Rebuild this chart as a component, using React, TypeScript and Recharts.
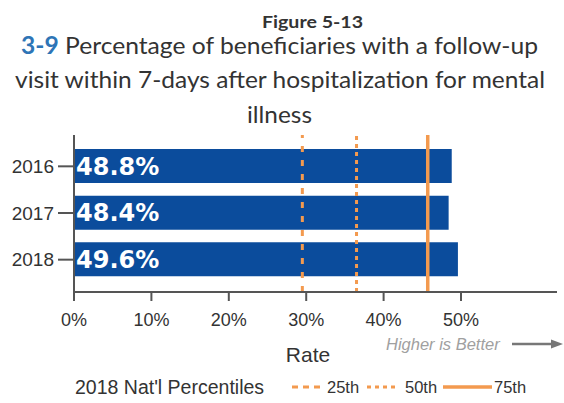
import React from 'react';
import { BarChart, Bar, XAxis, YAxis, ReferenceLine, LabelList } from 'recharts';

const years = ['2016', '2017', '2018'];
const rates = [48.8, 48.4, 49.6];
const xTicks = [0, 10, 20, 30, 40, 50];
const pct25 = 29.5;
const pct50 = 36.5;
const pct75 = 45.7;

const data = years.map((y, i) => ({ year: y, rate: rates[i] }));

const ORANGE = '#F39A4F';
const BLUE = '#0B4C9C';
const TXT = '#333333';

export default function App() {
  return (
    <div style={{ position: 'absolute', left: 0, top: 0, width: 564, height: 403, background: '#fff' }}>
      <svg width={564} height={135} style={{ position: 'absolute', left: 0, top: 0 }}>
        <text x={262} y={28} fontFamily="Lato" fontWeight="bold" fontSize={17} fill={TXT}
          textLength={101} lengthAdjust="spacingAndGlyphs">Figure 5-13</text>
        <text x={21} y={54} fontFamily="Lato" fontSize={24} fill={TXT}
          textLength={517} lengthAdjust="spacingAndGlyphs">
          <tspan fill="#2E75B6" fontWeight="bold">3-9</tspan>
          <tspan> Percentage of beneficiaries with a follow-up</tspan>
        </text>
        <text x={15} y={88} fontFamily="Lato" fontSize={24} fill={TXT}
          textLength={530} lengthAdjust="spacingAndGlyphs">visit within 7-days after hospitalization for mental</text>
        <text x={247} y={123} fontFamily="Lato" fontSize={24} fill={TXT}
          textLength={65} lengthAdjust="spacingAndGlyphs">illness</text>
      </svg>

      <div style={{ position: 'absolute', left: 0, top: 0 }}>
        <BarChart
          width={564}
          height={403}
          layout="vertical"
          data={data}
          margin={{ top: 135, right: 7, bottom: 71, left: 0 }}
        >
          <XAxis
            type="number"
            domain={[0, 62.4]}
            ticks={xTicks}
            allowDataOverflow
            tickFormatter={(v: number) => `${v}%`}
            tickSize={9}
            tickMargin={12}
            height={40}
            axisLine={{ stroke: '#555', strokeWidth: 2 }}
            tickLine={{ stroke: '#555', strokeWidth: 2 }}
            tick={{ fill: TXT, fontSize: 18, fontFamily: 'Liberation Sans' }}
          />
          <YAxis
            type="category"
            dataKey="year"
            width={74}
            tickSize={16}
            tickMargin={4}
            padding={{ top: 8, bottom: 9 }}
            axisLine={{ stroke: '#555', strokeWidth: 2 }}
            tickLine={{ stroke: '#555', strokeWidth: 2 }}
            tick={{ fill: TXT, fontSize: 19, fontFamily: 'Liberation Sans' }}
          />
          <Bar dataKey="rate" fill={BLUE} barSize={34} isAnimationActive={false}>
            <LabelList
              dataKey="rate"
              position="insideLeft"
              offset={2}
              formatter={(v: number) => `${v.toFixed(1)}%`}
              fill="#ffffff"
              fontSize={24}
              fontWeight="bold"
              fontFamily="DejaVu Sans"
            />
          </Bar>
          <ReferenceLine x={pct25} stroke={ORANGE} strokeWidth={3} strokeDasharray="6 8" />
          <ReferenceLine x={pct50} stroke={ORANGE} strokeWidth={3} strokeDasharray="4 4" />
          <ReferenceLine x={pct75} stroke={ORANGE} strokeWidth={3.5} />
        </BarChart>
      </div>

      <svg width={564} height={403} style={{ position: 'absolute', left: 0, top: 0, pointerEvents: 'none' }}>
        <text x={308} y={362} textAnchor="middle" fontFamily="Liberation Sans" fontSize={21} fill={TXT}>Rate</text>
        <text x={386} y={350} fontFamily="Liberation Sans" fontStyle="italic" fontSize={16.5} fill="#A0A0A0">Higher is Better</text>
        <line x1={512} y1={344} x2={553} y2={344} stroke="#777" strokeWidth={2.5} />
        <polygon points="563,344 551,339.5 551,348.5" fill="#777" />

        <text x={75} y={394} fontFamily="Liberation Sans" fontSize={19.5} fill={TXT}>2018 Nat'l Percentiles</text>
        <line x1={292} y1={387} x2={322} y2={387} stroke={ORANGE} strokeWidth={3} strokeDasharray="6 5" />
        <text x={327} y={393} fontFamily="Liberation Sans" fontSize={16.5} fill={TXT}>25th</text>
        <line x1={367} y1={387} x2={398} y2={387} stroke={ORANGE} strokeWidth={3} strokeDasharray="4 4" />
        <text x={405} y={393} fontFamily="Liberation Sans" fontSize={16.5} fill={TXT}>50th</text>
        <line x1={443} y1={387} x2={492} y2={387} stroke={ORANGE} strokeWidth={3.5} />
        <text x={494} y={393} fontFamily="Liberation Sans" fontSize={16.5} fill={TXT}>75th</text>
      </svg>
    </div>
  );
}
